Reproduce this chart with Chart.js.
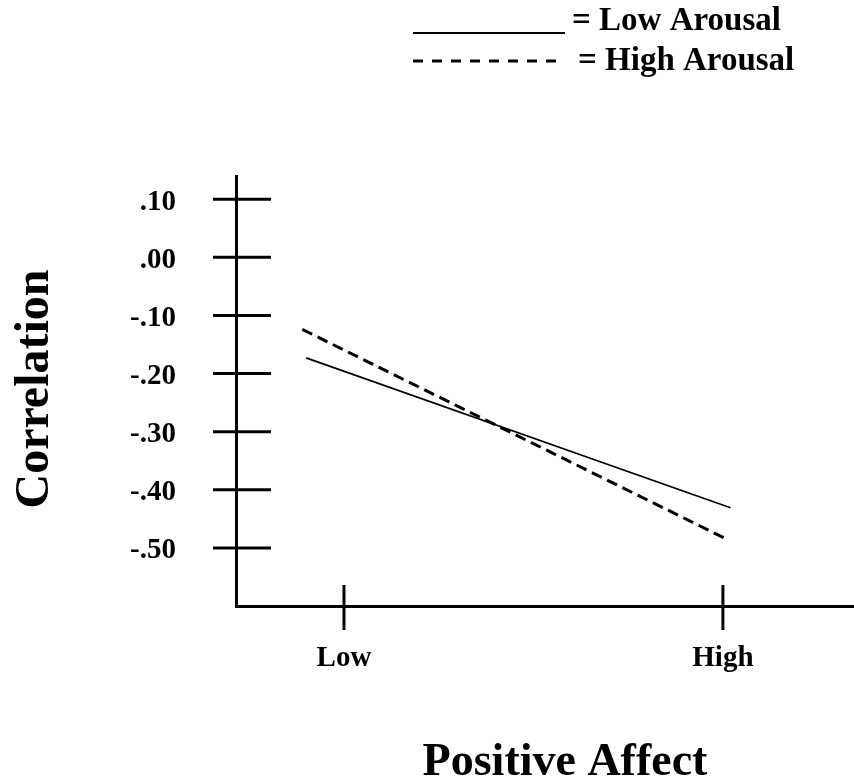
<!DOCTYPE html>
<html>
<head>
<meta charset="utf-8">
<title>Correlation by Positive Affect</title>
<script src="https://cdn.jsdelivr.net/npm/chart.js@4"></script>
<style>
  html, body { margin: 0; padding: 0; background: #fff; }
  #wrap { width: 854px; height: 783px; }
</style>
</head>
<body>
<div id="wrap"><canvas id="chart" width="854" height="783"></canvas></div>
<script>
/* ==========================================
   DATA
========================================== */

const categories = ["Low", "High"];          // positive affect levels
const categoryValues = [0, 1];                // where they sit on the x axis

const yTickValues = [0.10, 0.00, -0.10, -0.20, -0.30, -0.40, -0.50];
const yTickLabels = [".10", ".00", "-.10", "-.20", "-.30", "-.40", "-.50"];

const seriesNames = ["= Low Arousal", "= High Arousal"];

// line end points (x in category units, y = correlation)
const lowArousalX = [-0.10, 1.02];
const lowArousalY = [-0.173, -0.431];
const highArousalX = [-0.11, 1.01];
const highArousalY = [-0.124, -0.485];

const xTitle = "Positive Affect";
const yTitle = "Correlation";


/* ==========================================
   HELPERS
========================================== */

const serif = "'Liberation Serif', 'Times New Roman', serif";

function toPoints(xs, ys) {
  return xs.map((x, i) => ({ x: x, y: ys[i] }));
}

// crossing tick marks on both axes
const crossTicks = {
  id: "crossTicks",
  afterDraw(chart) {
    const ctx = chart.ctx;
    const xs = chart.scales.x;
    const ys = chart.scales.y;
    ctx.save();
    ctx.strokeStyle = "#000";
    ctx.lineWidth = 3;
    ys.ticks.forEach(t => {
      const py = ys.getPixelForValue(t.value);
      ctx.beginPath();
      ctx.moveTo(ys.right - 23, py);
      ctx.lineTo(ys.right + 35, py);
      ctx.stroke();
    });
    xs.ticks.forEach(t => {
      const px = xs.getPixelForValue(t.value);
      ctx.beginPath();
      ctx.moveTo(px, xs.top - 21);
      ctx.lineTo(px, xs.top + 24);
      ctx.stroke();
    });
    ctx.restore();
  }
};

// axis titles + hand-made legend at the top
const decorations = {
  id: "decorations",
  afterDraw(chart) {
    const ctx = chart.ctx;
    ctx.save();
    ctx.fillStyle = "#000";

    // axis titles
    ctx.font = "bold 46px " + serif;
    ctx.textAlign = "center";
    ctx.textBaseline = "alphabetic";
    ctx.fillText(xTitle, 565, 775);

    ctx.save();
    ctx.font = "bold 48px " + serif;
    ctx.translate(48, 389);
    ctx.rotate(-Math.PI / 2);
    ctx.fillText(yTitle, 0, 0);
    ctx.restore();

    // legend
    const rows = [
      { y: 33, textX: 572, baseline: 30 },
      { y: 61, textX: 578, baseline: 70 }
    ];
    chart.data.datasets.forEach((ds, i) => {
      const r = rows[i];
      ctx.beginPath();
      ctx.strokeStyle = "#000";
      ctx.lineWidth = i === 0 ? 2 : 3;
      ctx.setLineDash(i === 0 ? [] : [10, 9]);
      ctx.moveTo(413, r.y);
      ctx.lineTo(565, r.y);
      ctx.stroke();
      ctx.setLineDash([]);
      ctx.font = "bold 33px " + serif;
      ctx.textAlign = "left";
      ctx.fillText(seriesNames[i], r.textX, r.baseline);
    });
    ctx.restore();
  }
};


/* ==========================================
   CHART
========================================== */

new Chart(document.getElementById("chart"), {
  type: "line",
  data: {
    datasets: [
      {
        label: seriesNames[0],
        data: toPoints(lowArousalX, lowArousalY),
        borderColor: "#000",
        borderWidth: 1.6,
        pointRadius: 0,
        tension: 0,
        fill: false
      },
      {
        label: seriesNames[1],
        data: toPoints(highArousalX, highArousalY),
        borderColor: "#000",
        borderWidth: 3,
        borderDash: [11, 6],
        pointRadius: 0,
        tension: 0,
        fill: false
      }
    ]
  },
  options: {
    responsive: false,
    animation: false,
    devicePixelRatio: 1,
    layout: { padding: { top: 176, right: 0, left: 0, bottom: 0 } },
    plugins: {
      legend: { display: false },
      title: { display: false },
      tooltip: { enabled: false }
    },
    scales: {
      x: {
        type: "linear",
        min: -0.285,
        max: 1.346,
        afterFit(scale) { scale.height = 177; },
        afterBuildTicks(scale) {
          scale.ticks = categoryValues.map(v => ({ value: v }));
        },
        grid: { display: false, drawTicks: false },
        border: { display: true, color: "#000", width: 3 },
        ticks: {
          color: "#000",
          padding: 35,
          maxRotation: 0,
          autoSkip: false,
          font: { family: serif, size: 29, weight: "bold" },
          callback: (value, index) => categories[index]
        }
      },
      y: {
        type: "linear",
        min: -0.6,
        max: 0.14,
        afterFit(scale) { scale.width = 236; },
        afterBuildTicks(scale) {
          scale.ticks = yTickValues.map(v => ({ value: v }));
        },
        grid: { display: false, drawTicks: false },
        border: { display: true, color: "#000", width: 3 },
        ticks: {
          color: "#000",
          padding: 60,
          labelOffset: 3,
          autoSkip: false,
          font: { family: serif, size: 29, weight: "bold" },
          callback: (value, index) => yTickLabels[index]
        }
      }
    }
  },
  plugins: [crossTicks, decorations]
});
</script>
</body>
</html>
